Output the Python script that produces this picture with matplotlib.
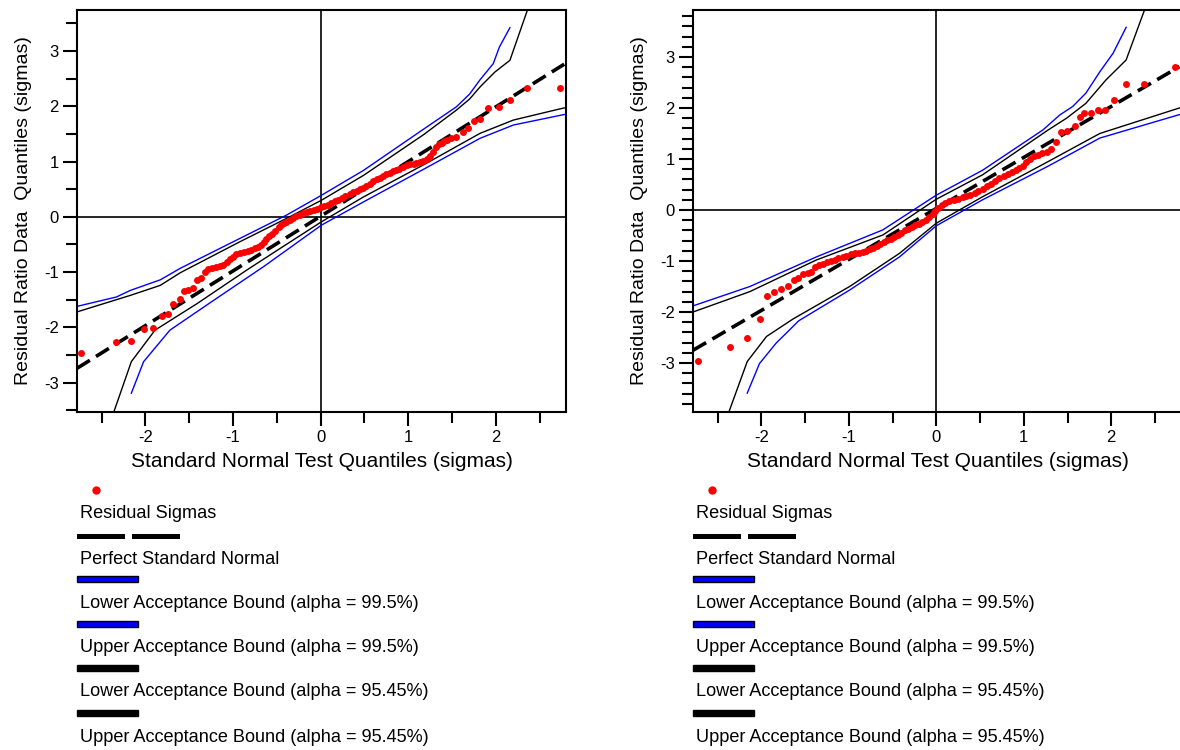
import matplotlib
matplotlib.use("Agg")
import matplotlib.pyplot as plt
from matplotlib.patches import Rectangle
from matplotlib.lines import Line2D
from matplotlib.ticker import MultipleLocator

plt.rcParams['font.family'] = ['Liberation Sans', 'DejaVu Sans']
plt.rcParams['axes.unicode_minus'] = False

# ---------------- data: left panel ----------------
left_pts_x = [-2.73, -2.34, -2.16, -2.02, -1.91, -1.81, -1.74, -1.68, -1.61, -1.56, -1.51, -1.46,
              -1.41, -1.37, -1.32, -1.28, -1.24, -1.19, -1.15, -1.11, -1.07, -1.03, -1.00, -0.96,
              -0.92, -0.88, -0.83, -0.79, -0.75, -0.71, -0.68, -0.65, -0.62, -0.59, -0.56, -0.52,
              -0.48, -0.45, -0.42, -0.39, -0.35, -0.31, -0.28, -0.24, -0.20, -0.16, -0.12, -0.08,
              -0.04, 0.00, 0.04, 0.08, 0.12, 0.16, 0.20, 0.24, 0.28, 0.33, 0.37, 0.41, 0.45, 0.48,
              0.52, 0.56, 0.60, 0.64, 0.68, 0.71, 0.75, 0.79, 0.83, 0.86, 0.90, 0.94, 0.98, 1.02,
              1.06, 1.09, 1.13, 1.17, 1.21, 1.25, 1.28, 1.32, 1.35, 1.38, 1.41, 1.44, 1.49, 1.55,
              1.62, 1.68, 1.75, 1.82, 1.91, 2.03, 2.16, 2.35, 2.73]
left_pts_y = [-2.47, -2.27, -2.24, -2.03, -2.01, -1.80, -1.76, -1.58, -1.49, -1.35, -1.32, -1.28,
              -1.15, -1.11, -0.99, -0.95, -0.92, -0.90, -0.89, -0.87, -0.81, -0.76, -0.72, -0.67,
              -0.65, -0.63, -0.61, -0.60, -0.57, -0.55, -0.51, -0.46, -0.40, -0.35, -0.31, -0.25,
              -0.19, -0.15, -0.12, -0.09, -0.06, -0.02, 0.01, 0.04, 0.06, 0.08, 0.10, 0.12,
              0.14, 0.17, 0.19, 0.22, 0.25, 0.28, 0.31, 0.34, 0.38, 0.41, 0.44, 0.47, 0.50, 0.52,
              0.55, 0.59, 0.64, 0.68, 0.71, 0.74, 0.77, 0.80, 0.82, 0.84, 0.87, 0.90, 0.93, 0.95,
              0.96, 0.97, 0.99, 1.01, 1.04, 1.10, 1.18, 1.26, 1.31, 1.33, 1.37, 1.39, 1.42, 1.44,
              1.54, 1.60, 1.74, 1.76, 1.96, 1.98, 2.11, 2.33, 2.33]

left_ref_x = [-2.78, 2.78]
left_ref_y = [-2.74, 2.76]

left_up995_x = [-2.78, -2.33, -2.17, -1.83, -1.60, -0.92, -0.39, 0.01, 0.49, 1.17, 1.55, 1.70, 1.82, 1.97, 2.04, 2.16]
left_up995_y = [-1.62, -1.45, -1.33, -1.14, -0.93, -0.39, 0.03, 0.39, 0.84, 1.58, 1.99, 2.22, 2.48, 2.77, 3.07, 3.42]
left_lo995_x = [-2.16, -2.02, -1.72, -1.22, -0.65, 0.01, 0.49, 1.21, 1.82, 2.20, 2.78]
left_lo995_y = [-3.19, -2.62, -2.05, -1.51, -0.90, -0.15, 0.27, 0.89, 1.42, 1.66, 1.85]
left_up9545_x = [-2.78, -2.17, -1.83, -1.60, -0.92, -0.39, 0.01, 0.49, 1.17, 1.55, 1.70, 1.82, 1.99, 2.16, 2.36]
left_up9545_y = [-1.72, -1.42, -1.24, -1.01, -0.45, -0.03, 0.30, 0.75, 1.48, 1.93, 2.13, 2.35, 2.62, 2.83, 3.74]
left_lo9545_x = [-2.36, -2.16, -1.89, -1.41, -0.84, -0.46, 0.01, 0.49, 1.21, 1.82, 2.20, 2.78]
left_lo9545_y = [-3.53, -2.62, -2.05, -1.57, -0.96, -0.57, -0.09, 0.36, 0.97, 1.51, 1.75, 1.97]

# ---------------- data: right panel ----------------
right_pts_x = [-2.72, -2.36, -2.16, -2.02, -1.93, -1.85, -1.77, -1.70, -1.63, -1.58, -1.52, -1.47,
               -1.43, -1.39, -1.34, -1.30, -1.25, -1.20, -1.16, -1.12, -1.07, -1.03, -0.98, -0.93,
               -0.88, -0.84, -0.80, -0.76, -0.72, -0.68, -0.64, -0.60, -0.56, -0.52, -0.48, -0.44,
               -0.40, -0.36, -0.32, -0.28, -0.24, -0.20, -0.16, -0.12, -0.08, -0.04, -0.01, 0.02,
               0.06, 0.10, 0.15, 0.20, 0.25, 0.30, 0.34, 0.39, 0.44, 0.48, 0.53, 0.58, 0.63, 0.67,
               0.72, 0.77, 0.82, 0.86, 0.91, 0.95, 0.99, 1.03, 1.07, 1.12, 1.16, 1.21, 1.26, 1.31,
               1.37, 1.43, 1.49, 1.58, 1.64, 1.69, 1.77, 1.85, 1.93, 2.03, 2.17, 2.37, 2.73]
right_pts_y = [-2.97, -2.69, -2.50, -2.14, -1.68, -1.60, -1.54, -1.49, -1.37, -1.34, -1.26, -1.23,
               -1.21, -1.11, -1.08, -1.06, -1.02, -1.00, -0.98, -0.95, -0.93, -0.91, -0.87, -0.85,
               -0.84, -0.82, -0.80, -0.77, -0.74, -0.70, -0.66, -0.62, -0.59, -0.56, -0.52, -0.49,
               -0.45, -0.40, -0.37, -0.34, -0.30, -0.27, -0.24, -0.20, -0.14, -0.07, -0.02, 0.04,
               0.10, 0.14, 0.18, 0.20, 0.22, 0.25, 0.27, 0.30, 0.34, 0.38, 0.42, 0.47, 0.51, 0.57,
               0.62, 0.67, 0.71, 0.75, 0.78, 0.82, 0.87, 0.95, 1.00, 1.05, 1.08, 1.12, 1.14, 1.19,
               1.34, 1.52, 1.54, 1.65, 1.83, 1.90, 1.90, 1.96, 1.96, 2.16, 2.47, 2.47, 2.80]

right_ref_x = [-2.78, 2.78]
right_ref_y = [-2.75, 2.81]

right_up995_x = [-2.78, -2.13, -1.37, -0.61, 0.00, 0.53, 1.22, 1.41, 1.56, 1.71, 1.87, 2.02, 2.17]
right_up995_y = [-1.88, -1.50, -0.92, -0.39, 0.29, 0.78, 1.57, 1.86, 2.03, 2.29, 2.71, 3.07, 3.58]
right_lo995_x = [-2.16, -2.02, -1.83, -1.57, -0.99, -0.42, 0.00, 0.53, 1.28, 1.87, 2.78]
right_lo995_y = [-3.59, -3.01, -2.61, -2.17, -1.57, -0.92, -0.31, 0.20, 0.86, 1.41, 1.87]
right_up9545_x = [-2.78, -2.13, -1.37, -0.61, 0.00, 0.53, 1.28, 1.49, 1.71, 1.94, 2.17, 2.38]
right_up9545_y = [-2.00, -1.60, -0.98, -0.49, 0.21, 0.69, 1.57, 1.80, 2.09, 2.55, 2.94, 3.92]
right_lo9545_x = [-2.37, -2.16, -1.94, -1.64, -0.99, -0.42, 0.00, 0.53, 1.28, 1.87, 2.78]
right_lo9545_y = [-3.96, -2.97, -2.48, -2.14, -1.50, -0.85, -0.26, 0.26, 0.95, 1.50, 2.00]

legend_labels = ["Residual Sigmas",
                 "Perfect Standard Normal",
                 "Lower Acceptance Bound (alpha = 99.5%)",
                 "Upper Acceptance Bound (alpha = 99.5%)",
                 "Lower Acceptance Bound (alpha = 95.45%)",
                 "Upper Acceptance Bound (alpha = 95.45%)"]

W, H = 1180, 750
fig = plt.figure(figsize=(W / 100, H / 100), dpi=100)


def fx(px):
    return px / W


def fy(py):
    return 1 - py / H


def draw_panel(ax, pts_x, pts_y, ref_x, ref_y, up995, lo995, up9545, lo9545, xlim, ylim, yminor):
    ax.axhline(0, color="black", lw=1.2, zorder=1)
    ax.axvline(0, color="black", lw=1.2, zorder=1)
    ax.plot(*up995, color="#0000ff", lw=1.0, zorder=2)
    ax.plot(*lo995, color="#0000ff", lw=1.0, zorder=2)
    ax.plot(*up9545, color="black", lw=1.0, zorder=2)
    ax.plot(*lo9545, color="black", lw=1.0, zorder=2)
    ax.plot(ref_x, ref_y, color="black", lw=2.6, dashes=(4.2, 2.0), zorder=3)
    ax.plot(pts_x, pts_y, "o", color="#ff0000", ms=5.0, mew=0, zorder=4)
    ax.set_xlim(*xlim)
    ax.set_ylim(*ylim)
    ax.xaxis.set_major_locator(MultipleLocator(1))
    ax.xaxis.set_minor_locator(MultipleLocator(0.5))
    ax.yaxis.set_major_locator(MultipleLocator(1))
    ax.yaxis.set_minor_locator(MultipleLocator(yminor))
    ax.tick_params(which="both", direction="out", width=1.5, labelsize=12)
    ax.tick_params(which="major", length=10)
    ax.tick_params(which="minor", length=8)
    ax.tick_params(axis="x", pad=3)
    ax.tick_params(axis="y", pad=3)
    for s in ax.spines.values():
        s.set_linewidth(1.5)
    ax.set_xlabel("Standard Normal Test Quantiles (sigmas)", fontsize=15, labelpad=5)
    ax.set_ylabel("Residual Ratio Data  Quantiles (sigmas)", fontsize=14, labelpad=9)


ax1 = fig.add_axes([fx(77), fy(412), fx(566 - 77), (412 - 10) / H])
draw_panel(ax1, left_pts_x, left_pts_y, left_ref_x, left_ref_y,
           (left_up995_x, left_up995_y), (left_lo995_x, left_lo995_y),
           (left_up9545_x, left_up9545_y), (left_lo9545_x, left_lo9545_y),
           (-2.78, 2.80), (-3.53, 3.74), 0.5)

ax2 = fig.add_axes([fx(693), fy(412), fx(1183 - 693), (412 - 10) / H])
draw_panel(ax2, right_pts_x, right_pts_y, right_ref_x, right_ref_y,
           (right_up995_x, right_up995_y), (right_lo995_x, right_lo995_y),
           (right_up9545_x, right_up9545_y), (right_lo9545_x, right_lo9545_y),
           (-2.78, 2.82), (-3.96, 3.92), 0.2)


# legends drawn below each panel
def draw_legend(x0):
    fig.add_artist(Line2D([fx(x0 + 19)], [fy(490)], marker="o", color="#ff0000", ms=6, mew=0,
                          transform=fig.transFigure))
    text_y = [514, 559, 604, 648, 692, 737]
    for lab, ty in zip(legend_labels, text_y):
        fig.text(fx(x0 + 3), fy(ty), lab, fontsize=13.1, va="center", ha="left")
    # dashed sample
    for a, b in [(0, 48), (55, 103)]:
        fig.add_artist(Rectangle((fx(x0 + a), fy(538.5)), fx(b - a), 5 / H, facecolor="black",
                                 edgecolor="none", transform=fig.transFigure))
    for by, col in [(579, "#0000ff"), (624, "#0000ff"), (668, "black"), (713, "black")]:
        fig.add_artist(Rectangle((fx(x0), fy(by + 3)), fx(61), 6 / H, facecolor=col,
                                 edgecolor="black", lw=1.0, transform=fig.transFigure))


draw_legend(77)
draw_legend(693)

fig.savefig("out.png", dpi=100)
